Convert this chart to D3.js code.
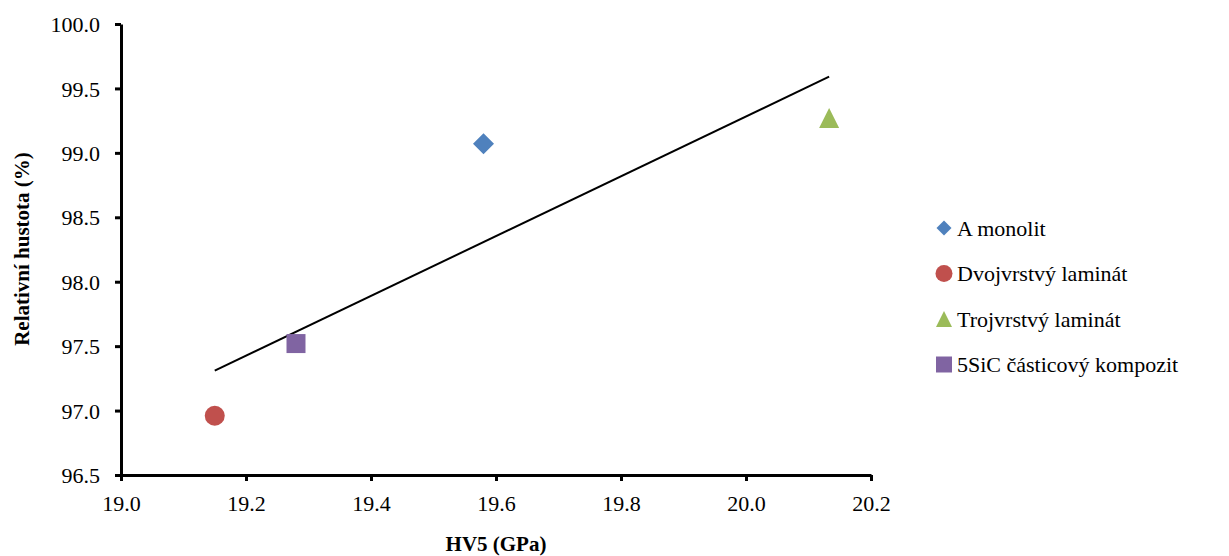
<!DOCTYPE html>
<html><head><meta charset="utf-8">
<script src="https://cdn.jsdelivr.net/npm/d3@7"></script>
</head><body style="margin:0;background:#fff">
<svg id="c" width="1229" height="556" style="font-family:'Liberation Serif',Tinos,'Times New Roman',serif"></svg>
<script>
const seriesNames = ["A monolit","Dvojvrstvý laminát","Trojvrstvý laminát","5SiC částicový kompozit"];
const hvValues = [19.58, 19.15, 20.133, 19.28];
const densityValues = [99.07, 96.96, 99.27, 97.52];
const seriesColors = ["#4F81BD","#C0504D","#9BBB59","#8064A2"];
const seriesShapes = ["diamond","circle","triangle","square"];
const xTicks = [19.0,19.2,19.4,19.6,19.8,20.0,20.2];
const yTicks = [96.5,97.0,97.5,98.0,98.5,99.0,99.5,100.0];
const FONT = "'Liberation Serif', Tinos, 'Times New Roman', serif";

const svg = d3.select("#c");
const x = d3.scaleLinear().domain([19.0,20.2]).range([121,871]);
const y = d3.scaleLinear().domain([96.5,100.0]).range([475,24]);

// trendline (linear regression)
const n = hvValues.length;
const mx = d3.mean(hvValues), my = d3.mean(densityValues);
let sxy=0,sxx=0;
for(let i=0;i<n;i++){sxy+=(hvValues[i]-mx)*(densityValues[i]-my);sxx+=(hvValues[i]-mx)**2;}
const slope=sxy/sxx, icpt=my-slope*mx;
const x0=d3.min(hvValues), x1=d3.max(hvValues);
svg.append("line").attr("x1",x(x0)).attr("y1",y(icpt+slope*x0)).attr("x2",x(x1)).attr("y2",y(icpt+slope*x1))
  .attr("stroke","#000").attr("stroke-width",2);

// axes
const xa = svg.append("g").attr("transform","translate(0,475)")
  .call(d3.axisBottom(x).tickValues(xTicks).tickFormat(d3.format(".1f")).tickSizeOuter(0).tickSizeInner(6).tickPadding(14));
const ya = svg.append("g").attr("transform","translate(121,0)")
  .call(d3.axisLeft(y).tickValues(yTicks).tickFormat(d3.format(".1f")).tickSizeOuter(0).tickSizeInner(6).tickPadding(15));
[xa,ya].forEach(g=>{
  g.attr("font-family",FONT).style("font-family",FONT);
  g.select(".domain").attr("stroke","#000").attr("stroke-width",3);
  g.selectAll(".tick line").attr("stroke","#000").attr("stroke-width",3);
  g.selectAll(".tick text").attr("font-size",22).attr("fill","#000").attr("font-family",FONT).style("font-family",FONT);
});
ya.selectAll(".tick text").attr("dy","0.35em");

function symPath(shape,size){
  if(shape==="diamond"){const s=size/2;return `M0,${-s}L${s},0L0,${s}L${-s},0Z`;}
  if(shape==="circle"){return d3.symbol(d3.symbolCircle,Math.PI*(size/2)**2)();}
  if(shape==="triangle"){const h=size, w=size;return `M0,${-h/2}L${w/2},${h/2}L${-w/2},${h/2}Z`;}
  const s=size/2;return `M${-s},${-s}H${s}V${s}H${-s}Z`;
}
const markerSize=[21,20,20,19];
svg.append("g").selectAll("path").data(d3.range(n)).join("path")
  .attr("transform",i=>`translate(${x(hvValues[i])},${y(densityValues[i])})`)
  .attr("d",i=>symPath(seriesShapes[i],markerSize[i]))
  .attr("fill",i=>seriesColors[i]);

// legend
const leg = svg.append("g");
const legSize=[15,17,16,16];
seriesNames.forEach((nm,i)=>{
  const cy = 228 + i*45.5;
  leg.append("path").attr("transform",`translate(944,${cy})`).attr("d",symPath(seriesShapes[i],legSize[i])).attr("fill",seriesColors[i]);
  leg.append("text").attr("x",957).attr("y",cy+7.5).attr("font-size",22).attr("fill","#000").attr("font-family",FONT).style("font-family",FONT).text(nm);
});

// axis titles
svg.append("text").attr("x",496).attr("y",551).attr("text-anchor","middle").attr("font-size",21).attr("font-weight","bold").attr("font-family",FONT).style("font-family",FONT).text("HV5 (GPa)");
svg.append("text").attr("transform","translate(29,249) rotate(-90)").attr("text-anchor","middle").attr("font-size",21).attr("font-weight","bold").attr("font-family",FONT).style("font-family",FONT).text("Relativní hustota (%)");
</script>
</body></html>
